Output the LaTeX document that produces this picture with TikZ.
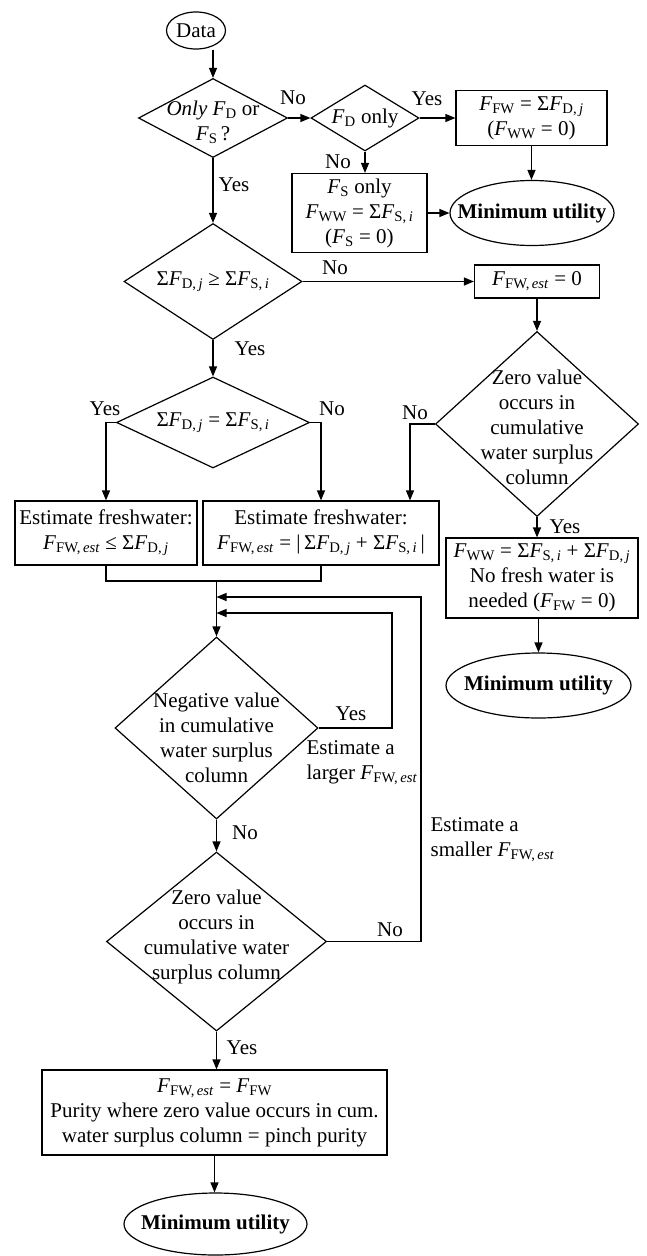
\documentclass[tikz,border=0pt]{standalone}
\usepackage{fontspec}
\setmainfont{Liberation Serif}
\usetikzlibrary{shapes.geometric,arrows.meta}
\newcommand{\Fsub}[1]{\textit{F}\textsubscript{#1}}
\newcommand{\sumD}{Σ\Fsub{D,\,\textit{j}}}
\newcommand{\sumS}{Σ\Fsub{S,\,\textit{i}}}
\newcommand{\Fest}{\Fsub{FW,\,\textit{est}}}
\newcommand{\shifted}[2]{\raisebox{#1}[0pt][0pt]{\begin{tabular}{@{}c@{}}#2\end{tabular}}}
\begin{document}
\begin{tikzpicture}[x=1pt,y=-1pt,line width=1.2pt,every node/.style={font=\fontsize{21}{25}\selectfont},box/.style={draw,rectangle,align=center,inner sep=0pt},dec/.style={draw,diamond,align=center,inner sep=-20pt},term/.style={draw,ellipse,align=center,inner sep=-20pt},lab/.style={inner sep=0pt},arr/.style={-{Triangle[length=10pt,width=8pt]}}]
\useasboundingbox (0,0) rectangle (646,1256);

\node[term,minimum width=59pt,minimum height=37pt] (data) at (196,30.5) {Data};
\node[dec,minimum width=149pt,minimum height=79pt] (q1) at (213,118) {\shifted{-10pt}{\textit{Only} \Fsub{D} or\\\Fsub{S}\,?}};
\node[dec,minimum width=108pt,minimum height=66pt] (q2) at (365,118) {\Fsub{D} only};
\node[box,minimum width=151pt,minimum height=55pt] (fw) at (531.5,118) {\Fsub{FW} = \sumD\\(\Fsub{WW} = 0)};
\node[term,minimum width=164pt,minimum height=65pt] (mu1) at (532,213) {\textbf{Minimum utility}};
\node[box,minimum width=135pt,minimum height=79pt] (ww) at (359.5,213) {\Fsub{S} only\\\Fsub{WW} = \sumS\\(\Fsub{S} = 0)};

\node[dec,minimum width=178pt,minimum height=116pt] (q3) at (213,281.5) {\sumD{} ≥ \sumS};
\node[box,minimum width=125pt,minimum height=33pt] (est0) at (537,281.5) {\Fest{} = 0};
\node[dec,minimum width=203pt,minimum height=185pt] (q4) at (537,424) {\shifted{-11pt}{Zero value\\occurs in\\cumulative\\water surplus\\column}};
\node[box,minimum width=192pt,minimum height=80pt] (nofw) at (542,578) {\Fsub{WW} = \sumS{} + \sumD\\No fresh water is\\needed (\Fsub{FW} = 0)};
\node[term,minimum width=185pt,minimum height=65pt] (mu2) at (538.5,685.5) {\textbf{Minimum utility}};

\node[dec,minimum width=193pt,minimum height=91pt] (q5) at (213,422.5) {\sumD{} = \sumS};
\node[box,minimum width=182pt,minimum height=64pt] (est1) at (106,533) {Estimate freshwater:\\\Fest{} ≤ \sumD};
\node[box,minimum width=236pt,minimum height=64pt] (est2) at (321,533) {Estimate freshwater:\\\Fest{} = |\,\sumD{} + \sumS\,|};

\coordinate (join) at (216.5,581);
\coordinate (back1) at (216.5,597);
\coordinate (back2) at (216.5,613);
\coordinate (loop1) at (392,613);
\coordinate (loop2) at (421,597);
\coordinate (n4) at (410,424);

\node[dec,minimum width=203pt,minimum height=182pt] (q6) at (216.5,728) {\shifted{-17pt}{Negative value\\in cumulative\\water surplus\\column}};
\node[dec,minimum width=220pt,minimum height=179pt] (q7) at (216.5,941.5) {\shifted{-1pt}{Zero value\\occurs in\\cumulative water\\surplus column}};
\node[box,minimum width=345pt,minimum height=85pt] (pinch) at (214.5,1112.5) {\Fest{} = \Fsub{FW}\\Purity where zero value occurs in cum.\\water surplus column = pinch purity};
\node[term,minimum width=183pt,minimum height=62pt] (mu3) at (215.5,1224) {\textbf{Minimum utility}};

\node[lab] (no1) at (293,98) {No};
\node[lab] (yes1) at (427,99) {Yes};
\node[lab] (no2) at (338,162) {No};
\node[lab] (yes2) at (234,185) {Yes};
\node[lab] (no3) at (335,268) {No};
\node[lab] (yes3) at (250,349) {Yes};
\node[lab] (yes4) at (105,409) {Yes};
\node[lab] (no4) at (332,409) {No};
\node[lab] (no5) at (415,413) {No};
\node[lab] (yes5) at (565,527) {Yes};
\node[lab] (yes6) at (351,714) {Yes};
\node[lab,align=left,anchor=west] (larger) at (306,762.5) {Estimate a\\larger \Fest};
\node[lab] (no6) at (245,833) {No};
\node[lab] (no7) at (390,930) {No};
\node[lab,align=left,anchor=west] (smaller) at (430,839.5) {Estimate a\\smaller \Fest};
\node[lab] (yes7) at (242,1048) {Yes};

\draw[arr] (data.south -| q1.north) -- (q1.north);
\draw[arr] (q1.east) -- (q2.west);
\draw[arr] (q2.east) -- (fw.west);
\draw[arr] (fw.south) -- (fw.south |- mu1.north);
\draw[arr] (q2.south) -- (q2.south |- ww.north);
\draw[arr] (ww.east) -- (mu1.west);
\draw[arr] (q1.south) -- (q3.north);
\draw[arr] (q3.east) -- (est0.west);
\draw[arr] (est0.south) -- (q4.north);
\draw[arr] (q4.west) -- (n4) -- (n4 |- est2.north);
\draw[arr] (q4.south) -- (q4.south |- nofw.north);
\draw[arr] (nofw.south -| mu2.north) -- (mu2.north);
\draw[arr] (q3.south) -- (q5.north);
\draw[arr] (q5.west) -| (est1.north);
\draw[arr] (q5.east) -| (est2.north);
\draw (est1.south) -- (est1.south |- join) -| (est2.south);
\draw[arr] (join) -- (q6.north);
\draw[arr] (q6.east) -| (loop1) -- (back2);
\draw[arr] (q7.east) -| (loop2) -- (back1);
\draw[arr] (q6.south) -- (q7.north);
\draw[arr] (q7.south) -- (q7.south |- pinch.north);
\draw[arr] (pinch.south) -- (pinch.south |- mu3.north);
\end{tikzpicture}
\end{document}
